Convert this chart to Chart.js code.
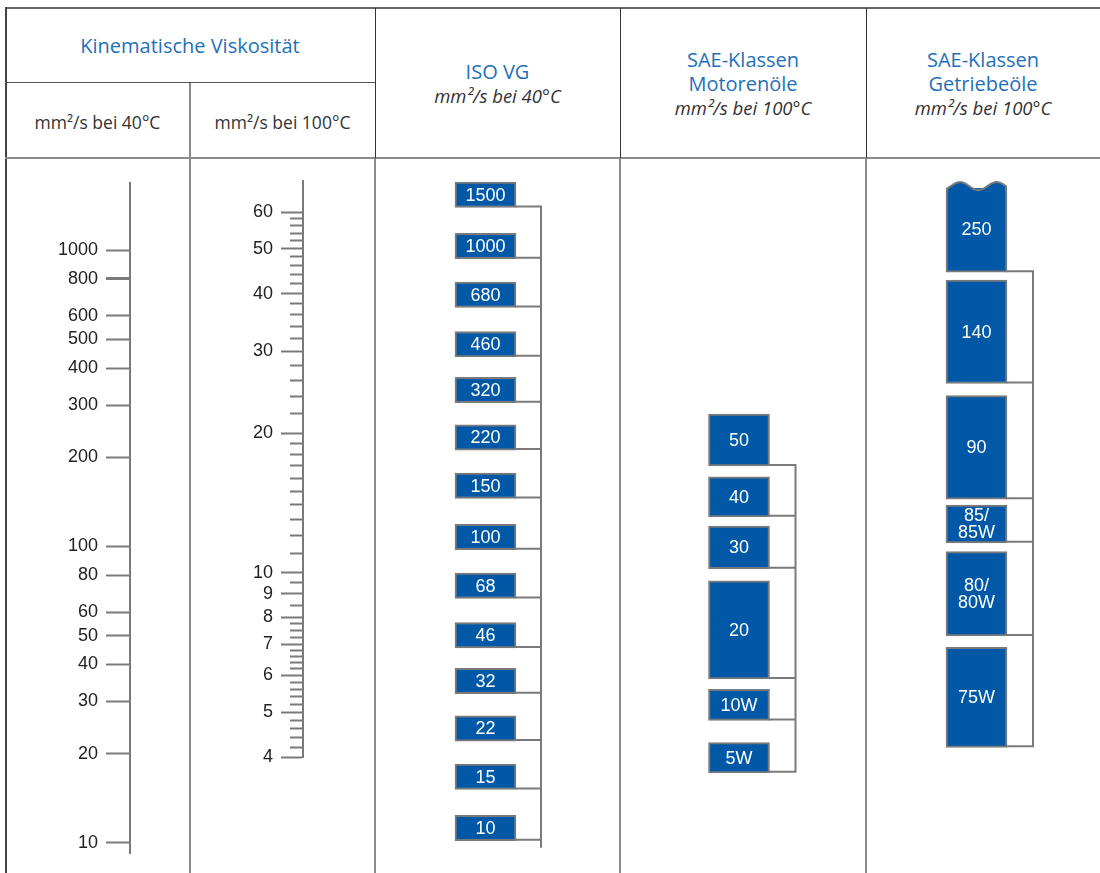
<!DOCTYPE html>
<html lang="de">
<head>
<meta charset="utf-8">
<title>Viskositätsklassen</title>
<script src="https://cdn.jsdelivr.net/npm/chart.js@4.4.1/dist/chart.umd.min.js"></script>
<style>
  html, body { margin: 0; padding: 0; background: #fff; }
  #page { position: relative; width: 1100px; height: 873px; overflow: hidden; font-family: 'Open Sans', sans-serif; }
  .ln { position: absolute; background: #555; }
  .lg { background: #8c8c8c; }
  .hd { position: absolute; text-align: center; line-height: 24px; color: #333; font-size: 17.5px; }
  .blue { color: #1f70b8; font-size: 20px; }
  .it { font-style: italic; font-size: 18.5px; }
  canvas { position: absolute; }
</style>
</head>
<body>
<div id="page">
  <!-- table frame -->
  <div class="ln" style="left:5px;top:7px;width:1095px;height:2px;background:#666"></div>
  <div class="ln" style="left:5px;top:7px;width:1.5px;height:866px;background:#444"></div>
  <div class="ln" style="left:5px;top:82px;width:370px;height:1px"></div>
  <div class="ln lg" style="left:5px;top:157px;width:1095px;height:2px"></div>
  <div class="ln lg" style="left:189px;top:83px;width:2px;height:790px"></div>
  <div class="ln" style="left:375px;top:8px;width:1px;height:150px;background:#333"></div>
  <div class="ln" style="left:620px;top:8px;width:1px;height:150px;background:#333"></div>
  <div class="ln" style="left:866px;top:8px;width:1px;height:150px;background:#333"></div>
  <div class="ln lg" style="left:374px;top:159px;width:2px;height:714px"></div>
  <div class="ln lg" style="left:619px;top:159px;width:2px;height:714px"></div>
  <div class="ln lg" style="left:865px;top:159px;width:2px;height:714px"></div>

  <!-- headers -->
  <div class="hd blue" style="left:5px;width:370px;top:34px">Kinematische Viskosität</div>
  <div class="hd" style="left:5px;width:185px;top:110px">mm²/s bei 40°C</div>
  <div class="hd" style="left:190px;width:185px;top:110px">mm²/s bei 100°C</div>
  <div class="hd" style="left:375px;width:245px;top:60px">
    <div class="blue">ISO VG</div>
    <div class="it">mm²/s bei 40°C</div>
  </div>
  <div class="hd" style="left:620px;width:246px;top:48px">
    <div class="blue">SAE-Klassen</div>
    <div class="blue">Motorenöle</div>
    <div class="it">mm²/s bei 100°C</div>
  </div>
  <div class="hd" style="left:866px;width:234px;top:48px">
    <div class="blue">SAE-Klassen</div>
    <div class="blue">Getriebeöle</div>
    <div class="it">mm²/s bei 100°C</div>
  </div>

  <canvas id="c40" width="185" height="710" style="left:5px;top:163px"></canvas>
  <canvas id="c100" width="185" height="616" style="left:190px;top:161px"></canvas>
  <canvas id="cIso" width="245" height="709" style="left:375px;top:161px"></canvas>
  <canvas id="cMotor" width="246" height="643" style="left:620px;top:161px"></canvas>
  <canvas id="cGear" width="234" height="643" style="left:866px;top:161px"></canvas>
</div>

<script>
// scale ticks
const ticks40 = [10, 20, 30, 40, 50, 60, 80, 100, 200, 300, 400, 500, 600, 800, 1000];
const ticks100Major = [4, 5, 6, 7, 8, 9, 10, 20, 30, 40, 50, 60];
const ticks100Minor = [4.2, 4.4, 4.6, 4.8, 5.2, 5.4, 5.6, 5.8, 6.2, 6.4, 6.6, 6.8, 7.25, 7.5, 7.75, 8.5, 9.5,
  11, 12, 13, 14, 15, 16, 17, 18, 19, 22, 24, 26, 28, 32, 34, 36, 38, 42, 44, 46, 48, 52, 54, 56, 58];

// ISO VG classes (mm²/s at 40°C)
const isoGrades = ['10', '15', '22', '32', '46', '68', '100', '150', '220', '320', '460', '680', '1000', '1500'];
const isoMin = [9, 13.5, 19.8, 28.8, 41.4, 61.2, 90, 135, 198, 288, 414, 612, 900, 1350];
const isoMax = [11, 16.5, 24.2, 35.2, 50.6, 74.8, 110, 165, 242, 352, 506, 748, 1100, 1650];

// SAE motor oils (mm²/s at 100°C)
const motorGrades = ['5W', '10W', '20', '30', '40', '50'];
const motorMin = [3.7, 4.8, 5.9, 10.2, 13.2, 17];
const motorMax = [4.3, 5.6, 9.6, 12.6, 16.1, 22];

// SAE gear oils (mm²/s at 100°C)
const gearGrades = ['75W', '80/80W', '85/85W', '90', '140', '250'];
const gearMin = [4.2, 7.3, 11.6, 14.4, 25.6, 44.5];
const gearMax = [6.9, 11.1, 14, 24.1, 42.8, 68.6];

const BLUE = '#0058a6';
const LINE = '#7a7a7a';

Chart.defaults.animation = false;
Chart.defaults.responsive = false;
Chart.defaults.font.family = "'Liberation Sans', Arial, sans-serif";
Chart.defaults.plugins.legend.display = false;
Chart.defaults.plugins.tooltip.enabled = false;

// brackets, wavy top and grade labels for the class boxes
const bracketPlugin = {
    id: 'brackets',
    afterDatasetsDraw(chart, args, opts) {
        const ctx = chart.ctx;
        const points = chart.data.datasets[0].data;
        const boxes = chart.getDatasetMeta(0).data.map(el => {
            const p = el.getProps(['x', 'y', 'base', 'width'], true);
            return { cx: p.x, left: p.x - p.width / 2, right: p.x + p.width / 2,
                     top: Math.min(p.y, p.base), bottom: Math.max(p.y, p.base) };
        });
        const bottoms = boxes.map(b => b.bottom - 1);
        const xLine = boxes[0].right + opts.gap;

        ctx.save();
        ctx.strokeStyle = LINE;
        ctx.lineWidth = 2;
        ctx.beginPath();
        ctx.moveTo(xLine, Math.min(...bottoms) - 1);
        ctx.lineTo(xLine, Math.max(...bottoms) + opts.tail);
        boxes.forEach((b, i) => { ctx.moveTo(b.right - 1, bottoms[i]); ctx.lineTo(xLine + 1, bottoms[i]); });
        ctx.stroke();

        if (opts.wave) {
            const b = boxes.reduce((a, c) => (c.top < a.top ? c : a));
            const w = b.right - b.left;
            const waveY = x => b.top + 1 - 4 * Math.cos(2 * Math.PI * (x - b.left - w * 0.23) / (w * 0.6));
            ctx.fillStyle = '#fff';
            ctx.fillRect(b.left - 2, b.top - 8, w + 4, 11);
            ctx.beginPath();
            ctx.moveTo(b.left, waveY(b.left));
            for (let x = b.left; x <= b.right; x += 1) ctx.lineTo(x, waveY(x));
            ctx.lineTo(b.right, b.top + 6);
            ctx.lineTo(b.left, b.top + 6);
            ctx.closePath();
            ctx.fillStyle = BLUE;
            ctx.fill();
            ctx.beginPath();
            ctx.moveTo(b.left + 1, b.top + 6);
            for (let x = b.left + 1; x <= b.right - 1; x += 1) ctx.lineTo(x, waveY(x));
            ctx.lineTo(b.right - 1, b.top + 6);
            ctx.stroke();
        }

        ctx.fillStyle = '#fff';
        ctx.font = "18px 'Liberation Sans', Arial, sans-serif";
        ctx.textAlign = 'center';
        ctx.textBaseline = 'middle';
        boxes.forEach((b, i) => {
            const g = points[i].g;
            const k = g.indexOf('/');
            const lines = k > 0 ? [g.slice(0, k + 1), g.slice(k + 1)] : [g];
            const mid = (b.top + b.bottom) / 2 + 1;
            lines.forEach((t, j) => ctx.fillText(t, b.cx, mid + (j - (lines.length - 1) / 2) * 17));
        });
        ctx.restore();
    }
};

// axis: mm²/s at 40°C
new Chart(document.getElementById('c40'), {
    type: 'scatter',
    data: { datasets: [] },
    options: {
        layout: { padding: { top: 20, bottom: 20, left: 0, right: 0 } },
        scales: {
            x: { type: 'linear', display: false },
            y: {
                type: 'logarithmic', min: 9.25, max: 1683,
                afterBuildTicks: s => { s.ticks = ticks40.map(v => ({ value: v })); },
                afterFit: s => { s.width = 125; },
                grid: { drawOnChartArea: false, tickLength: 24, tickColor: LINE,
                        tickWidth: c => (c.tick && c.tick.value === 800 ? 3 : 2) },
                border: { display: true, color: LINE, width: 2 },
                ticks: { autoSkip: false, padding: 8, color: '#222', font: { size: 18 },
                         callback: v => String(v) }
            }
        }
    }
});

// axis: mm²/s at 100°C
const allTicks100 = ticks100Major.concat(ticks100Minor).sort((a, b) => a - b);
new Chart(document.getElementById('c100'), {
    type: 'scatter',
    data: { datasets: [] },
    options: {
        layout: { padding: { top: 20, bottom: 20, left: 0, right: 0 } },
        scales: {
            x: { type: 'linear', display: false },
            y: {
                type: 'logarithmic', min: 4, max: 70,
                afterBuildTicks: s => { s.ticks = allTicks100.map(v => ({ value: v, major: ticks100Major.includes(v) })); },
                afterFit: s => { s.width = 113; },
                grid: { drawOnChartArea: false, tickLength: 22, tickColor: LINE, tickWidth: 2,
                        tickBorderDash: c => (c.tick && !c.tick.major ? [0, 9, 13, 40] : []) },
                border: { display: true, color: LINE, width: 2 },
                ticks: { autoSkip: false, padding: 8, color: '#222', font: { size: 18 },
                         callback: v => (ticks100Major.includes(v) ? String(v) : '') }
            }
        }
    }
});

function gradeChart(id, grades, lo, hi, min, max, pad, bracket) {
    return new Chart(document.getElementById(id), {
        type: 'bar',
        data: {
            labels: ['k'],
            datasets: [{
                data: grades.map((g, i) => ({ x: 'k', y: [lo[i], hi[i]], g: g })),
                backgroundColor: BLUE,
                borderColor: LINE,
                borderWidth: 2,
                borderSkipped: false,
                barThickness: 61
            }]
        },
        options: {
            layout: { padding: pad },
            scales: {
                x: { display: false },
                y: { type: 'logarithmic', min: min, max: max, display: false }
            },
            plugins: { brackets: bracket }
        },
        plugins: [bracketPlugin]
    });
}

gradeChart('cIso', isoGrades, isoMin, isoMax, 7.73, 1816,
    { top: 9, bottom: 10, left: 0, right: 24 }, { gap: 25, tail: 8, wave: false });
gradeChart('cMotor', motorGrades, motorMin, motorMax, 3.5, 70,
    { top: 20, bottom: 20, left: 0, right: 8 }, { gap: 26, tail: 0, wave: false });
gradeChart('cGear', gearGrades, gearMin, gearMax, 3.5, 70,
    { top: 20, bottom: 20, left: 0, right: 13 }, { gap: 26, tail: 0, wave: true });
</script>
</body>
</html>
